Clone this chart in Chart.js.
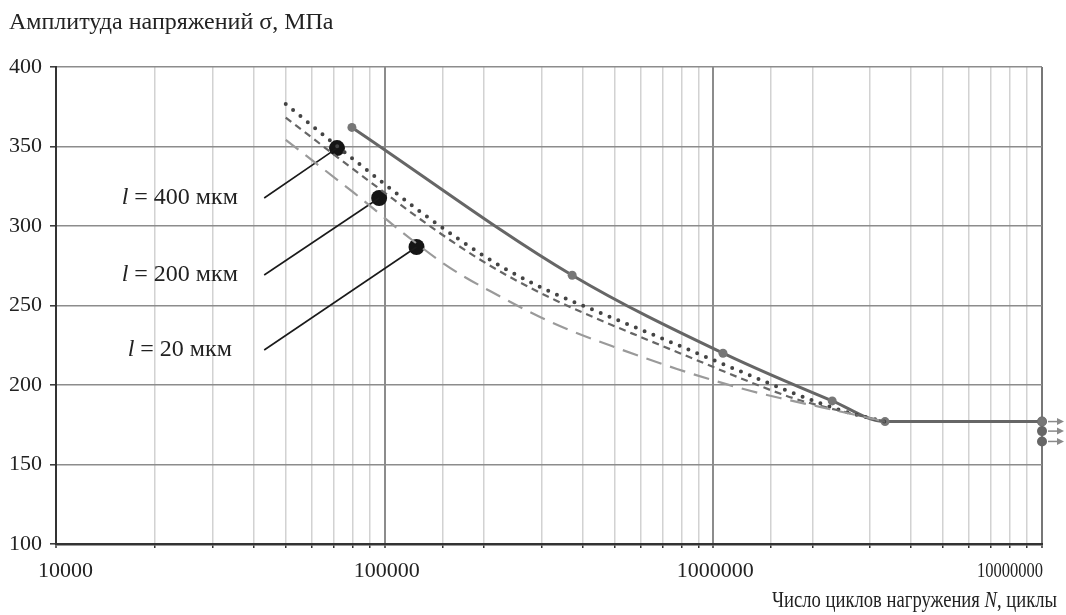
<!DOCTYPE html>
<html>
<head>
<meta charset="utf-8">
<script src="https://cdn.jsdelivr.net/npm/chart.js@4"></script>
<style>
  body { margin: 0; background: #fff; }
  #wrap { width: 1066px; height: 615px; }
</style>
</head>
<body>
<div id="wrap"><canvas id="chart" width="1066" height="615"></canvas></div>
<script>
// === ДАННЫЕ ===
// сплошная кривая
const nSolid = [79500, 372000, 1070000, 2300000, 3330000, 10000000];
const sSolid = [362, 269, 220, 190, 177, 177];
// l = 400 мкм (точки)
const n400 = [50000, 71600, 101600, 129900, 165900, 201900, 229100, 276800, 322800, 461500, 610700, 753900, 1069000, 1319000, 1628000, 2066000, 2604000, 3330000];
const s400 = [376.7, 350.3, 325.2, 308.2, 292.5, 280.8, 273.9, 264.8, 258.2, 244.7, 234.3, 226.4, 213.2, 205.3, 197.5, 189.3, 182.4, 177];
// l = 200 мкм (короткий штрих)
const n200 = [50000, 73100, 106000, 128100, 158000, 194900, 240500, 329700, 451900, 610700, 910500, 1205000, 1747000, 2550000, 3330000];
const s200 = [368.2, 342.1, 317, 304.4, 291.2, 278.9, 267.9, 253.5, 240.9, 229.6, 214.8, 204.4, 191.8, 182.7, 177];
// l = 20 мкм (длинный штрих)
const n20 = [50000, 60500, 80700, 112900, 147300, 173100, 209200, 292700, 358500, 509000, 775000, 1205000, 1594000, 2110000, 3330000];
const s20 = [354.1, 340.9, 320.8, 296.2, 278, 268.6, 259.1, 243.4, 235.2, 223.3, 210.1, 198.1, 191.8, 186.2, 177];

// пределы выносливости справа (N = 10^7)
const nLimit = [10000000, 10000000, 10000000];
const sLimit = [177, 171, 164.5];

// подписи кривых и выноски
const labelTexts = ["400 мкм", "200 мкм", "20 мкм"];
const labelN = [23800, 23800, 23800];
const leaderStartN = [43000, 43000, 43000];
const leaderS = [317.6, 269.2, 222];
const markerN = [71600, 96200, 125000];
const markerS = [349, 317.6, 286.8];

// оси
const xTickValues = [10000, 100000, 1000000, 10000000];
const xTickLabels = ["10000", "100000", "1000000", "10000000"];
const yMin = 100, yMax = 400, yStep = 50;
const yTitle = "Амплитуда напряжений σ, МПа";
const xTitleParts = ["Число циклов нагружения ", "N", ", циклы"];

const FONT = '"Liberation Serif", "Times New Roman", serif';

function toXY(ns, ss) {
  return ns.map((n, i) => ({ x: n, y: ss[i] }));
}

function isDecade(v) {
  const l = Math.log10(v);
  return Math.abs(l - Math.round(l)) < 1e-6;
}

// === ДОПОЛНИТЕЛЬНЫЕ НАДПИСИ ===
const extrasPlugin = {
  id: "extras",
  afterDraw(chart) {
    const ctx = chart.ctx;
    const xs = chart.scales.x;
    const ys = chart.scales.y;
    ctx.save();
    ctx.fillStyle = "#222";

    // заголовок оси Y
    ctx.font = "24px " + FONT;
    ctx.textAlign = "left";
    ctx.textBaseline = "alphabetic";
    ctx.fillText(yTitle, 9, 29);

    // подписи оси X
    ctx.font = "22px " + FONT;
    xTickValues.forEach((v, i) => {
      const px = xs.getPixelForValue(v);
      if (i === 0) {
        ctx.textAlign = "left";
        ctx.fillText(xTickLabels[i], px - 18, 577);
      } else if (i === xTickValues.length - 1) {
        ctx.textAlign = "right";
        ctx.fillText(xTickLabels[i], px + 1, 577, 66);
      } else {
        ctx.textAlign = "center";
        ctx.fillText(xTickLabels[i], px + 2, 577);
      }
    });

    // заголовок оси X (N курсивом), узкое начертание
    ctx.textAlign = "left";
    const fonts = ["24px " + FONT, "italic 24px " + FONT, "24px " + FONT];
    let total = 0;
    xTitleParts.forEach((t, i) => { ctx.font = fonts[i]; total += ctx.measureText(t).width; });
    const sx = 285 / total;
    ctx.save();
    ctx.translate(1057 - total * sx, 607);
    ctx.scale(sx, 1);
    let x0 = 0;
    xTitleParts.forEach((t, i) => {
      ctx.font = fonts[i];
      ctx.fillText(t, x0, 0);
      x0 += ctx.measureText(t).width;
    });
    ctx.restore();

    // подписи кривых: "l = ... мкм"
    labelTexts.forEach((t, i) => {
      const cx = xs.getPixelForValue(labelN[i]);
      const cy = ys.getPixelForValue(leaderS[i]);
      const parts = ["l", " = " + t];
      const f = ["italic 24px " + FONT, "24px " + FONT];
      let w = 0;
      parts.forEach((p, k) => { ctx.font = f[k]; w += ctx.measureText(p).width; });
      let x = cx - w / 2;
      ctx.textBaseline = "middle";
      parts.forEach((p, k) => {
        ctx.font = f[k];
        ctx.fillText(p, x, cy);
        x += ctx.measureText(p).width;
      });
    });

    // стрелки справа
    ctx.strokeStyle = "#8a8a8a";
    ctx.fillStyle = "#8a8a8a";
    ctx.lineWidth = 1.5;
    nLimit.forEach((n, i) => {
      const px = xs.getPixelForValue(n);
      const py = ys.getPixelForValue(sLimit[i]);
      ctx.beginPath();
      ctx.moveTo(px + 6, py);
      ctx.lineTo(px + 16, py);
      ctx.stroke();
      ctx.beginPath();
      ctx.moveTo(px + 22, py);
      ctx.lineTo(px + 15, py - 3.5);
      ctx.lineTo(px + 15, py + 3.5);
      ctx.closePath();
      ctx.fill();
    });
    ctx.restore();
  }
};

// === ДАТАСЕТЫ ===
const datasets = [
  {
    label: "l = 20 мкм",
    data: toXY(n20, s20),
    showLine: true,
    borderColor: "#9a9a9a",
    borderWidth: 2.2,
    borderDash: [16, 9],
    pointRadius: 0,
    cubicInterpolationMode: "monotone"
  },
  {
    label: "l = 200 мкм",
    data: toXY(n200, s200),
    showLine: true,
    borderColor: "#666",
    borderWidth: 2.2,
    borderDash: [7, 5],
    pointRadius: 0,
    cubicInterpolationMode: "monotone"
  },
  {
    label: "l = 400 мкм",
    data: toXY(n400, s400),
    showLine: true,
    borderColor: "#444",
    borderWidth: 4,
    borderDash: [0, 9.5],
    borderCapStyle: "round",
    pointRadius: 0,
    cubicInterpolationMode: "monotone"
  },
  {
    label: "эксперимент",
    data: toXY(nSolid, sSolid),
    showLine: true,
    borderColor: "#666",
    borderWidth: 3,
    pointRadius: 4.5,
    pointBackgroundColor: "#777",
    pointBorderWidth: 0,
    cubicInterpolationMode: "monotone",
    clip: false
  },
  {
    label: "пределы",
    data: toXY(nLimit, sLimit),
    pointRadius: 5,
    pointBackgroundColor: "#666",
    pointBorderWidth: 0,
    clip: false
  }
];

// выноски
leaderS.forEach((s, i) => {
  datasets.push({
    label: "выноска " + i,
    data: [{ x: leaderStartN[i], y: s }, { x: markerN[i], y: markerS[i] }],
    showLine: true,
    borderColor: "#1a1a1a",
    borderWidth: 1.6,
    pointRadius: 0
  });
});
datasets.push({
  label: "маркеры",
  data: toXY(markerN, markerS),
  pointRadius: 8,
  pointBackgroundColor: "#151515",
  pointBorderWidth: 0
});

Chart.defaults.font.family = FONT;

new Chart(document.getElementById("chart"), {
  type: "scatter",
  data: { datasets },
  options: {
    responsive: false,
    animation: false,
    events: [],
    layout: { padding: { top: 67, right: 24, left: 0, bottom: 0 } },
    plugins: { legend: { display: false }, tooltip: { enabled: false } },
    scales: {
      x: {
        type: "logarithmic",
        min: 10000,
        max: 10000000,
        afterFit: (s) => { s.height = 71; },
        ticks: { autoSkip: false, maxRotation: 0, callback: () => "" },
        grid: {
          color: (c) => {
            const v = c.tick ? c.tick.value : 0;
            if (v >= 10000000) return "#777";
            return isDecade(v) ? "#8c8c8c" : "#d2d2d2";
          },
          lineWidth: (c) => (c.tick && isDecade(c.tick.value) ? 2 : 1.5),
          tickColor: "#333",
          tickLength: 4,
          tickWidth: 1.5
        },
        border: { color: "#333", width: 2.5 }
      },
      y: {
        min: yMin,
        max: yMax,
        afterFit: (s) => { s.width = 56; },
        ticks: {
          stepSize: yStep,
          color: "#222",
          padding: 8,
          font: { size: 22, family: FONT }
        },
        grid: {
          color: (c) => (c.tick && c.tick.value === yMin ? "#333" : "#8c8c8c"),
          lineWidth: 1.6,
          tickColor: "#333",
          tickLength: 6,
          tickWidth: 1.5
        },
        border: { color: "#333", width: 2 }
      }
    }
  },
  plugins: [extrasPlugin]
});
</script>
</body>
</html>
